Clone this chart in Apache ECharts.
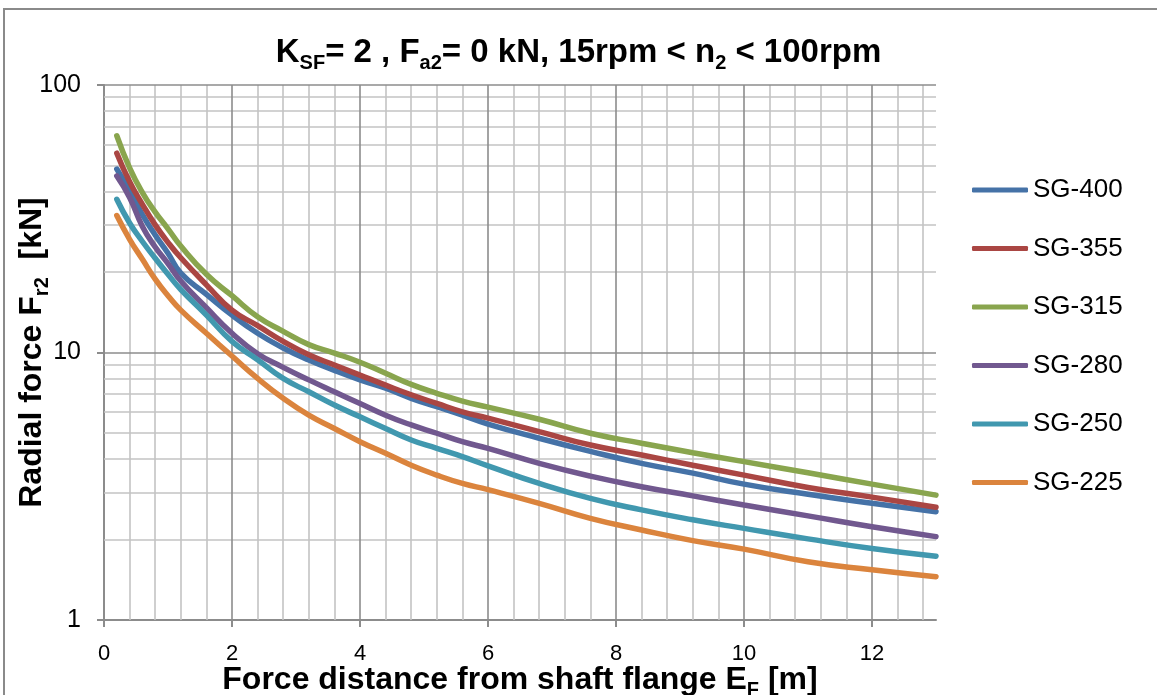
<!DOCTYPE html>
<html>
<head>
<meta charset="utf-8">
<script src="https://cdn.jsdelivr.net/npm/echarts@6/dist/echarts.min.js"></script>
<style>
html,body{margin:0;padding:0;background:#fff;}
#main{width:1157px;height:695px;}
</style>
</head>
<body>
<div id="main"></div>
<script>
// Force distance E_F [m]
var xs = [0.2, 0.4, 0.6, 0.8, 1, 1.2, 1.6, 2, 2.4, 2.8, 3.2, 3.6, 4, 4.4, 4.8, 5.2, 5.6, 6, 6.8, 7.6, 8.4, 9.2, 10, 11, 12, 13];
// Radial force F_r2 [kN]
var sg400 = [48.5, 40.3, 32.8, 27.5, 23.5, 19.8, 16.5, 13.8, 11.8, 10.4, 9.37, 8.57, 7.9, 7.35, 6.74, 6.27, 5.83, 5.4, 4.78, 4.27, 3.85, 3.54, 3.22, 2.95, 2.73, 2.54];
var sg355 = [55.6, 43.5, 35.8, 30, 25.8, 22.6, 17.9, 14.4, 12.6, 11.0, 9.8, 8.98, 8.23, 7.55, 6.95, 6.45, 6.0, 5.68, 5.06, 4.51, 4.14, 3.79, 3.48, 3.13, 2.88, 2.64];
var sg315 = [64.6, 49, 39.6, 33.5, 29, 25, 19.6, 16.3, 13.6, 12.0, 10.7, 9.95, 9.2, 8.36, 7.6, 7.04, 6.58, 6.25, 5.63, 4.99, 4.58, 4.22, 3.91, 3.55, 3.22, 2.93];
var sg280 = [45.7, 38, 29.6, 24.8, 21.5, 18.5, 14.7, 11.8, 9.9, 8.8, 7.9, 7.13, 6.45, 5.83, 5.36, 4.99, 4.64, 4.38, 3.85, 3.45, 3.15, 2.91, 2.69, 2.45, 2.23, 2.05];
var sg250 = [37.4, 30.5, 26, 22.5, 19.6, 17.2, 13.8, 11.0, 9.4, 8.0, 7.13, 6.36, 5.75, 5.2, 4.71, 4.38, 4.08, 3.77, 3.24, 2.85, 2.58, 2.37, 2.20, 2.01, 1.85, 1.73];
var sg225 = [32.5, 26.5, 22.3, 18.8, 16.3, 14.4, 11.8, 9.7, 8.0, 6.74, 5.83, 5.2, 4.64, 4.2, 3.79, 3.48, 3.24, 3.07, 2.73, 2.40, 2.17, 1.98, 1.84, 1.65, 1.54, 1.45];

var names = ['SG-400', 'SG-355', 'SG-315', 'SG-280', 'SG-250', 'SG-225'];
var values = [sg400, sg355, sg315, sg280, sg250, sg225];
var colors = ['#4572A7', '#AA4643', '#89A54E', '#71588F', '#4198AF', '#DB843D'];

var xTicks = [0, 2, 4, 6, 8, 10, 12];
var yMajor = [10, 100];
var yMinor = [2, 3, 4, 5, 6, 7, 8, 9, 20, 30, 40, 50, 60, 70, 80, 90];

// minor vertical lines every 0.4
var xMinor = [];
for (var i = 1; i * 0.4 < 13; i++) {
	var v = Math.round(i * 4) / 10;
	if (v % 2 !== 0) xMinor.push(v);
}

var font = 'Liberation Sans, Arial, sans-serif';

function lines(key, vals, color) {
	return vals.map(function (v) {
		var o = {lineStyle: {color: color, width: 1.6, type: 'solid'}};
		o[key] = v;
		return o;
	});
}

var series = [{
	name: 'grid',
	type: 'line',
	data: [[0, 1]],
	symbol: 'none',
	lineStyle: {opacity: 0},
	silent: true,
	z: 1,
	markLine: {
		silent: true,
		z: 1,
		symbol: ['none', 'none'],
		label: {show: false},
		emphasis: {disabled: true},
		animation: false,
		data: lines('xAxis', xMinor, '#c3c3c3')
			.concat(lines('yAxis', yMinor, '#c3c3c3'))
			.concat(lines('xAxis', xTicks.slice(1), '#8c8c8c'))
			.concat(lines('yAxis', yMajor, '#8c8c8c'))
	}
}];

for (var k = 0; k < names.length; k++) {
	series.push({
		name: names[k],
		type: 'line',
		data: xs.map(function (x, j) { return [x, values[k][j]]; }),
		symbol: 'none',
		smooth: 0.5,
		z: 3,
		color: colors[k],
		lineStyle: {width: 5.5, color: colors[k], cap: 'round'}
	});
}

var myChart = echarts.init(document.getElementById('main'));

var sub = function (big, small) {
	return {
		b: {fontFamily: font, fontWeight: 'bold', fontSize: big, lineHeight: big + 7, color: '#000'},
		s: {fontFamily: font, fontWeight: 'bold', fontSize: small, lineHeight: small, verticalAlign: 'bottom', color: '#000'}
	};
};

var option = {
	animation: false,
	backgroundColor: '#fff',
	graphic: [{
		type: 'rect',
		shape: {x: 4, y: 9, width: 1180, height: 720},
		style: {fill: 'none', stroke: '#8a8a8a', lineWidth: 2},
		silent: true
	}],
	title: {
		text: '{b|K}{s|SF}{b|= 2 , F}{s|a2}{b|= 0 kN, 15rpm < n}{s|2}{b| < 100rpm}',
		left: 'center',
		top: 28,
		textStyle: {rich: sub(33, 20)}
	},
	legend: {
		orient: 'vertical',
		left: 972,
		top: 177,
		padding: 0,
		icon: 'roundRect',
		itemWidth: 56,
		itemHeight: 5,
		itemGap: 32.5,
		data: names,
		textStyle: {fontFamily: font, fontSize: 26, color: '#000', lineHeight: 26}
	},
	grid: {left: 104, top: 85, right: 221, bottom: 75, outerBoundsMode: 'none', containLabel: false},
	xAxis: {
		type: 'value',
		min: 0,
		max: 13,
		interval: 2,
		name: '{b|Force distance from shaft flange E}{s|F}{b| [m]}',
		nameLocation: 'middle',
		nameGap: 41,
		nameMoveOverlap: false,
		nameTextStyle: {rich: sub(32, 20)},
		axisLine: {show: true, lineStyle: {color: '#8c8c8c', width: 2}},
		axisTick: {show: true, length: 7, customValues: xTicks, lineStyle: {color: '#8c8c8c', width: 2}},
		axisLabel: {customValues: xTicks, margin: 23, fontFamily: font, fontSize: 22, color: '#000'},
		splitLine: {show: false}
	},
	yAxis: {
		type: 'log',
		logBase: 10,
		min: 1,
		max: 100,
		name: '{b|Radial force F}{s|r2}{b|  [kN]}',
		nameLocation: 'middle',
		nameGap: 52,
		nameRotate: 90,
		nameMoveOverlap: false,
		nameTextStyle: {rich: sub(32, 20)},
		axisLine: {show: true, lineStyle: {color: '#8c8c8c', width: 2}},
		axisTick: {show: true, length: 7, lineStyle: {color: '#8c8c8c', width: 2}},
		axisLabel: {margin: 23, fontFamily: font, fontSize: 25, color: '#000'},
		splitLine: {show: false},
		minorTick: {show: false},
		minorSplitLine: {show: false}
	},
	series: series
};

myChart.setOption(option);
</script>
</body>
</html>
